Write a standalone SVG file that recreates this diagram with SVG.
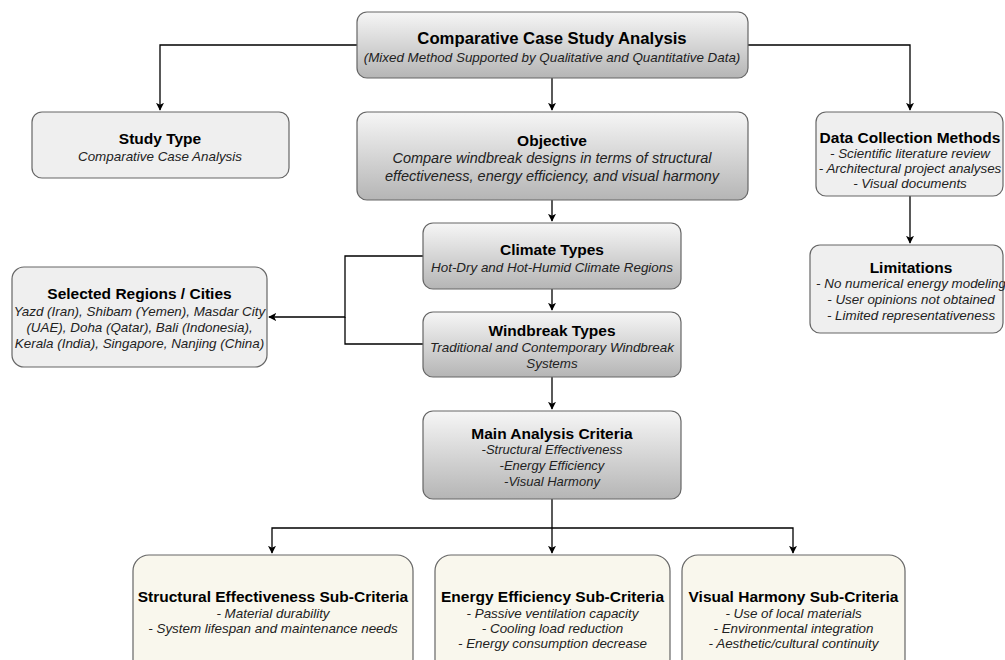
<svg xmlns="http://www.w3.org/2000/svg" width="1005" height="660" viewBox="0 0 1005 660">
<defs>
<linearGradient id="g" x1="0" y1="0" x2="0" y2="1">
<stop offset="0" stop-color="#f6f6f6"/>
<stop offset="1" stop-color="#b5b5b5"/>
</linearGradient>
<marker id="ah" viewBox="0 0 10 10" refX="9" refY="5" markerWidth="8" markerHeight="8" markerUnits="userSpaceOnUse" orient="auto">
<path d="M0,0 L10,5 L0,10 L2.5,5 Z" fill="#000"/>
</marker>
<style>
.gb{fill:url(#g);stroke:#666;stroke-width:1.2}
.fb{fill:#efefef;stroke:#666;stroke-width:1.2}
.cb{fill:#f9f7ed;stroke:#666;stroke-width:1.2}
text{font-family:"Liberation Sans",Arial,sans-serif;text-anchor:middle}
.t{font-weight:bold;font-size:15.5px;fill:#000}
.s{font-style:italic;font-size:13.4px;fill:#222}
.c path{fill:none;stroke:#000;stroke-width:1.3}
</style>
</defs>
<rect width="1005" height="660" fill="#fff"/>
<g class="c" id="connectors">
<path d="M357,45 H160 V110" marker-end="url(#ah)"/>
<path d="M748,45 H910 V110" marker-end="url(#ah)"/>
<path d="M552,78 V110" marker-end="url(#ah)"/>
<path d="M910,196 V243" marker-end="url(#ah)"/>
<path d="M552,200 V221" marker-end="url(#ah)"/>
<path d="M552,289 V310" marker-end="url(#ah)"/>
<path d="M552,377 V409" marker-end="url(#ah)"/>
<path d="M423,256 H345 V317 H269" marker-end="url(#ah)"/>
<path d="M423,344 H345 V317"/>
<path d="M552,499 V528"/>
<path d="M552,528 H272 V553" marker-end="url(#ah)"/>
<path d="M552,528 V553" marker-end="url(#ah)"/>
<path d="M552,528 H793 V553" marker-end="url(#ah)"/>
</g>
<g id="n-main">
<rect class="gb" x="357" y="12" width="391" height="66" rx="10"/>
<text class="t" x="552" y="44" style="font-size:16.7px">Comparative Case Study Analysis</text>
<text class="s" x="552" y="62">(Mixed Method Supported by Qualitative and Quantitative Data)</text>
</g>
<g id="n-study">
<rect class="fb" x="32" y="112" width="257" height="66" rx="10"/>
<text class="t" x="160" y="143.5">Study Type</text>
<text class="s" x="160" y="161">Comparative Case Analysis</text>
</g>
<g id="n-objective">
<rect class="gb" x="357" y="112" width="391" height="88" rx="10"/>
<text class="t" x="552" y="145.5">Objective</text>
<text class="s" x="552" y="163" style="font-size:14.5px">Compare windbreak designs in terms of structural</text>
<text class="s" x="552" y="181" style="font-size:14.5px">effectiveness, energy efficiency, and visual harmony</text>
</g>
<g id="n-data">
<rect class="fb" x="816" y="112" width="187" height="84" rx="10"/>
<text class="t" x="910" y="142.5">Data Collection Methods</text>
<text class="s" x="910" y="158">- Scientific literature review</text>
<text class="s" x="910" y="173">- Architectural project analyses</text>
<text class="s" x="910" y="188">- Visual documents</text>
</g>
<g id="n-limitations">
<rect class="fb" x="810" y="245" width="193" height="88" rx="10"/>
<text class="t" x="911" y="272.5">Limitations</text>
<text class="s" x="911" y="288">- No numerical energy modeling</text>
<text class="s" x="911" y="304">- User opinions not obtained</text>
<text class="s" x="911" y="320">- Limited representativeness</text>
</g>
<g id="n-selected">
<rect class="fb" x="12" y="267" width="255" height="100" rx="12"/>
<text class="t" x="139.5" y="298.5">Selected Regions / Cities</text>
<text class="s" x="139.5" y="316">Yazd (Iran), Shibam (Yemen), Masdar City</text>
<text class="s" x="139.5" y="332">(UAE), Doha (Qatar), Bali (Indonesia),</text>
<text class="s" x="139.5" y="348">Kerala (India), Singapore, Nanjing (China)</text>
</g>
<g id="n-climate">
<rect class="gb" x="423" y="223" width="258" height="66" rx="10"/>
<text class="t" x="552" y="254.5">Climate Types</text>
<text class="s" x="552" y="272">Hot-Dry and Hot-Humid Climate Regions</text>
</g>
<g id="n-windbreak">
<rect class="gb" x="423" y="312" width="258" height="65" rx="10"/>
<text class="t" x="552" y="335.5">Windbreak Types</text>
<text class="s" x="552" y="352">Traditional and Contemporary Windbreak</text>
<text class="s" x="552" y="368">Systems</text>
</g>
<g id="n-criteria">
<rect class="gb" x="423" y="411" width="258" height="88" rx="10"/>
<text class="t" x="552" y="438.5">Main Analysis Criteria</text>
<text class="s" x="552" y="454" style="font-size:13px">-Structural Effectiveness</text>
<text class="s" x="552" y="470" style="font-size:13px">-Energy Efficiency</text>
<text class="s" x="552" y="486" style="font-size:13px">-Visual Harmony</text>
</g>
<g id="n-structural">
<rect class="cb" x="133" y="555" width="280" height="120" rx="16"/>
<text class="t" x="273" y="601.5">Structural Effectiveness Sub-Criteria</text>
<text class="s" x="273" y="618">- Material durability</text>
<text class="s" x="273" y="633">- System lifespan and maintenance needs</text>
</g>
<g id="n-energy">
<rect class="cb" x="435" y="555" width="235" height="120" rx="16"/>
<text class="t" x="552.5" y="602">Energy Efficiency Sub-Criteria</text>
<text class="s" x="552.5" y="618">- Passive ventilation capacity</text>
<text class="s" x="552.5" y="633">- Cooling load reduction</text>
<text class="s" x="552.5" y="648">- Energy consumption decrease</text>
</g>
<g id="n-visual">
<rect class="cb" x="682" y="555" width="223" height="120" rx="16"/>
<text class="t" x="793.5" y="602">Visual Harmony Sub-Criteria</text>
<text class="s" x="793.5" y="618">- Use of local materials</text>
<text class="s" x="793.5" y="633">- Environmental integration</text>
<text class="s" x="793.5" y="648">- Aesthetic/cultural continuity</text>
</g>
</svg>
